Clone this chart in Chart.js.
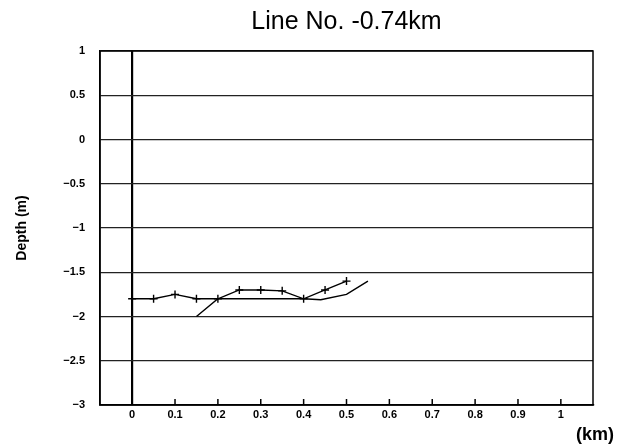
<!DOCTYPE html>
<html>
<head>
<meta charset="utf-8">
<script src="https://cdn.jsdelivr.net/npm/chart.js@4/dist/chart.umd.min.js"></script>
<style>
  html, body { margin: 0; padding: 0; background: #fff; }
  #wrap { width: 618px; height: 448px; }
</style>
</head>
<body>
<div id="wrap"><canvas id="grafico" width="618" height="448"></canvas></div>
<script>
// datos
var distMarcada = [0, 0.05, 0.1, 0.15, 0.2, 0.25, 0.3, 0.35, 0.4, 0.45, 0.5];
var profMarcada = [-1.8, -1.8, -1.75, -1.8, -1.8, -1.7, -1.7, -1.71, -1.8, -1.7, -1.6];
var distLinea = [0.15, 0.2, 0.25, 0.3, 0.35, 0.4, 0.44, 0.5, 0.55];
var profLinea = [-2.0, -1.8, -1.8, -1.8, -1.8, -1.8, -1.81, -1.75, -1.6];
var ticksX = [0, 0.1, 0.2, 0.3, 0.4, 0.5, 0.6, 0.7, 0.8, 0.9, 1];
var ticksY = [1, 0.5, 0, -0.5, -1, -1.5, -2, -2.5, -3];

function puntos(xs, ys){
    var res = [];
    for (var i = 0; i < xs.length; i++) {
        res.push({x: xs[i], y: ys[i]});
    }
    return res;
}
function formatea(v){
    var s = String(Math.round(v*100)/100);
    return s.replace("-", "\u2212");
}

// marco y marcas interiores del eje x
var marco = {
    id: "marco",
    afterDatasetsDraw: function(chart){
        var c = chart.ctx, a = chart.chartArea, sx = chart.scales.x;
        c.save();
        c.strokeStyle = "#000";
        c.lineWidth = 1.5;
        c.strokeRect(a.left, a.top, a.right - a.left, a.bottom - a.top);
        ticksX.forEach(function(v){
            var px = sx.getPixelForValue(v);
            c.beginPath();
            c.moveTo(px, a.bottom);
            c.lineTo(px, a.bottom - (v === 0 ? 0 : 6));
            c.stroke();
        });
        c.font = "bold 18px 'Liberation Sans', Arial, sans-serif";
        c.fillStyle = "#000";
        c.textAlign = "right";
        c.textBaseline = "middle";
        c.fillText("(km)", 614, 435);
        c.restore();
    }
};

var ctx = document.getElementById("grafico").getContext("2d");
var chart = new Chart(ctx, {
    type: "scatter",
    plugins: [marco],
    data: {
        datasets: [
            {label: "marcada", data: puntos(distMarcada, profMarcada), showLine: true,
             borderColor: "#000", backgroundColor: "#000", borderWidth: 1.4,
             pointStyle: "cross", pointRadius: 4, pointBorderWidth: 1.4},
            {label: "linea", data: puntos(distLinea, profLinea), showLine: true,
             borderColor: "#000", backgroundColor: "#000", borderWidth: 1.4,
             pointRadius: 0}
        ]
    },
    options: {
        responsive: false,
        animation: false,
        layout: {padding: {left: 0, right: 25, top: 0, bottom: 0}},
        plugins: {
            legend: {display: false},
            tooltip: {enabled: false},
            title: {
                display: true,
                fullSize: false,
                text: "Line No. -0.74km",
                color: "#000",
                font: {family: "'Liberation Sans', Arial, sans-serif", size: 25, weight: "normal"},
                padding: {top: 7, bottom: 14}
            }
        },
        scales: {
            x: {
                type: "linear",
                min: -0.075,
                max: 1.075,
                afterBuildTicks: function(s){ s.ticks = ticksX.map(function(v){ return {value: v}; }); },
                afterFit: function(s){ s.height = 43; },
                border: {display: true, color: "#000", width: 1.5},
                grid: {
                    drawTicks: false,
                    color: function(c){ return c.tick && c.tick.value === 0 ? "#000" : "rgba(0,0,0,0)"; },
                    lineWidth: function(c){ return c.tick && c.tick.value === 0 ? 2.2 : 0; }
                },
                ticks: {
                    color: "#000",
                    padding: 3,
                    maxRotation: 0,
                    font: {family: "'Liberation Sans', Arial, sans-serif", size: 11, weight: "bold"},
                    callback: function(v){ return formatea(v); }
                }
            },
            y: {
                type: "linear",
                min: -3,
                max: 1,
                afterBuildTicks: function(s){ s.ticks = ticksY.map(function(v){ return {value: v}; }); },
                afterFit: function(s){ s.width = 100; },
                border: {display: true, color: "#000", width: 1.5},
                grid: {drawTicks: false, color: "#222", lineWidth: 1.2},
                ticks: {
                    color: "#000",
                    padding: 15,
                    font: {family: "'Liberation Sans', Arial, sans-serif", size: 11, weight: "bold"},
                    callback: function(v){ return formatea(v); }
                },
                title: {
                    display: true,
                    text: "Depth (m)",
                    color: "#000",
                    font: {family: "'Liberation Sans', Arial, sans-serif", size: 14, weight: "bold"},
                    padding: {top: 14, bottom: 0}
                }
            }
        }
    }
});
</script>
</body>
</html>
